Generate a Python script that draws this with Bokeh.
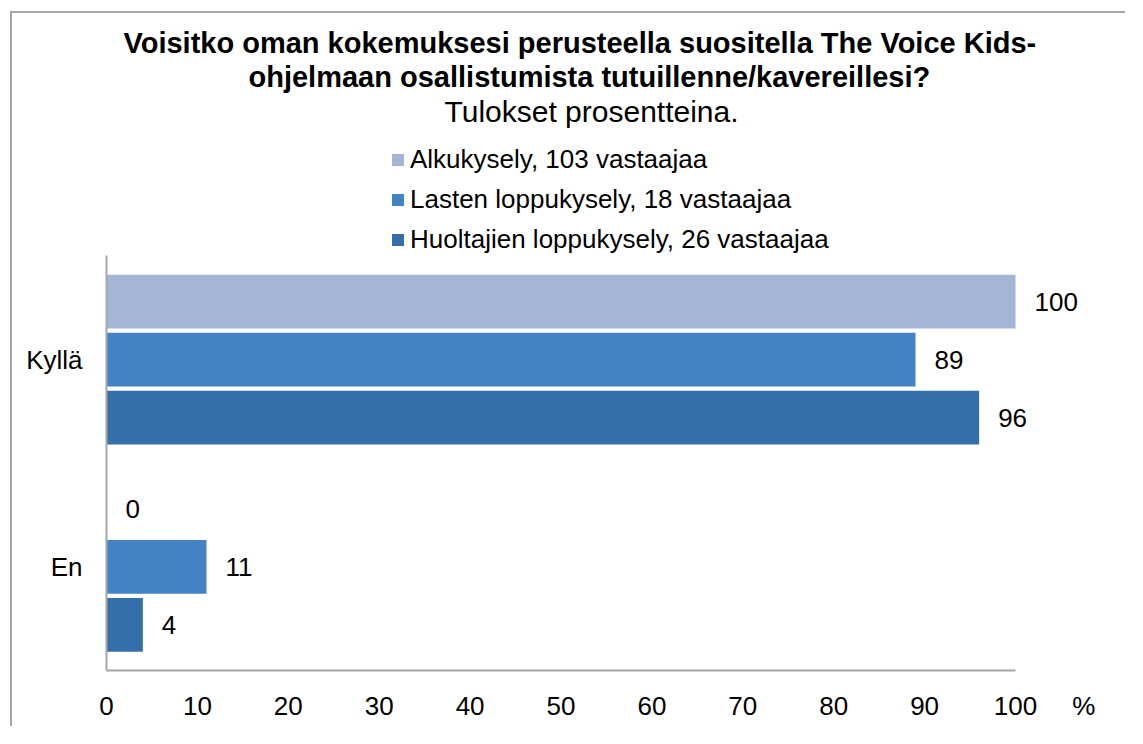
from bokeh.plotting import figure
from bokeh.models import (ColumnDataSource, Range1d, FixedTicker, Legend,
                          LegendItem, Title, LinearAxis)
from bokeh.core.properties import value
from bokeh.transform import dodge
from bokeh.embed import file_html
from bokeh.resources import INLINE

# ---- data ----
categories = ["Kyllä", "En"]
series_names = ["Alkukysely, 103 vastaajaa",
                "Lasten loppukysely, 18 vastaajaa",
                "Huoltajien loppukysely, 26 vastaajaa"]
alkukysely = [100, 0]
lasten = [89, 11]
huoltajat = [96, 4]
x_ticks = [0, 10, 20, 30, 40, 50, 60, 70, 80, 90, 100]
title_lines = ["Voisitko oman kokemuksesi perusteella suositella The Voice Kids-",
               "ohjelmaan osallistumista tutuillenne/kavereillesi?"]
subtitle = "Tulokset prosentteina."
unit_label = "%"
unit_pos = 107.5

colors = ["#a3b6d6", "#4383c5", "#346fac"]
FONT = "Liberation Sans"

n_cat = len(categories)
cat_pos = [n_cat - i - 0.5 for i in range(n_cat)]   # band centres, top to bottom

src = ColumnDataSource(dict(
    cat=categories, ypos=cat_pos,
    alku=alkukysely, lasten=lasten, huolt=huoltajat,
    alku_t=[str(v) for v in alkukysely],
    lasten_t=[str(v) for v in lasten],
    huolt_t=[str(v) for v in huoltajat],
))

p = figure(width=1115, height=715, output_backend="svg", toolbar_location=None,
           y_range=Range1d(0, n_cat + 0.62),
           x_range=Range1d(0, 111),
           min_border_left=94, min_border_right=12, min_border_bottom=58,
           min_border_top=114,
           styles={"margin-left": "10px", "margin-top": "11px",
                   "border-left": "2px solid #a6a6a6",
                   "border-top": "2px solid #a6a6a6"})
p.outline_line_color = None
p.grid.visible = False
p.background_fill_color = "white"
p.border_fill_color = "white"

cols = ["alku", "lasten", "huolt"]
offsets = [0.28, 0.0, -0.28]
renderers = []
for col, off, c in zip(cols, offsets, colors):
    r = p.hbar(y=dodge("ypos", off), left=0, right=col, height=0.26,
               source=src, fill_color=c, line_color=None)
    renderers.append(r)
    p.text(x=col, y=dodge("ypos", off), text=col + "_t", source=src,
           x_offset=19, text_align="left", text_baseline="middle",
           text_font_size="26px", text_font=value(FONT), text_color="black")

# x axis: line only from 0 to 100
xa = p.xaxis[0]
xa.ticker = FixedTicker(ticks=x_ticks)
xa.bounds = (0, 100)
xa.axis_line_color = "#a6a6a6"
xa.axis_line_width = 2
xa.major_tick_line_color = None
xa.minor_tick_line_color = None
xa.major_tick_out = 0
xa.major_label_standoff = 0
xa.major_label_text_font_size = "0px"
xa.major_label_text_alpha = 0

# x tick labels and unit
xl = LinearAxis(ticker=FixedTicker(ticks=x_ticks + [unit_pos]),
                major_label_overrides={unit_pos: unit_label},
                axis_line_color=None, major_tick_line_color=None,
                minor_tick_line_color=None, major_tick_out=0,
                major_label_standoff=20, major_label_text_font_size="26px",
                major_label_text_font=FONT, major_label_text_color="black")
p.add_layout(xl, "below")

ya = p.yaxis[0]
ya.ticker = FixedTicker(ticks=cat_pos)
ya.major_label_overrides = {pos: name for pos, name in zip(cat_pos, categories)}
ya.bounds = (0, n_cat)
ya.axis_line_color = "#a6a6a6"
ya.axis_line_width = 2
ya.major_tick_line_color = None
ya.minor_tick_line_color = None
ya.major_tick_out = 0
ya.major_label_standoff = 24
ya.major_label_text_font_size = "26px"
ya.major_label_text_font = FONT
ya.major_label_text_color = "black"

legend = Legend(items=[LegendItem(label=n, renderers=[r]) for n, r in zip(series_names, renderers)],
                location=(284, 415), orientation="vertical",
                label_text_font_size="26px", label_text_font=FONT,
                label_text_color="black",
                glyph_width=15, glyph_height=15, label_standoff=5,
                label_height=30, spacing=9, padding=2, margin=0,
                border_line_color=None, background_fill_alpha=0)
p.add_layout(legend)

p.add_layout(Title(text=subtitle, align="left", offset=338, text_font_size="30px",
                   text_font=FONT, text_font_style="normal", text_color="black",
                   standoff=0), "above")
p.add_layout(Title(text=title_lines[1], align="left", offset=142, text_font_size="29px",
                   text_font=FONT, text_font_style="bold", text_color="black",
                   standoff=0), "above")
p.add_layout(Title(text=title_lines[0], align="left", offset=17, text_font_size="29px",
                   text_font=FONT, text_font_style="bold", text_color="black",
                   standoff=0), "above")

open("out.html", "w").write(file_html(p, INLINE))
